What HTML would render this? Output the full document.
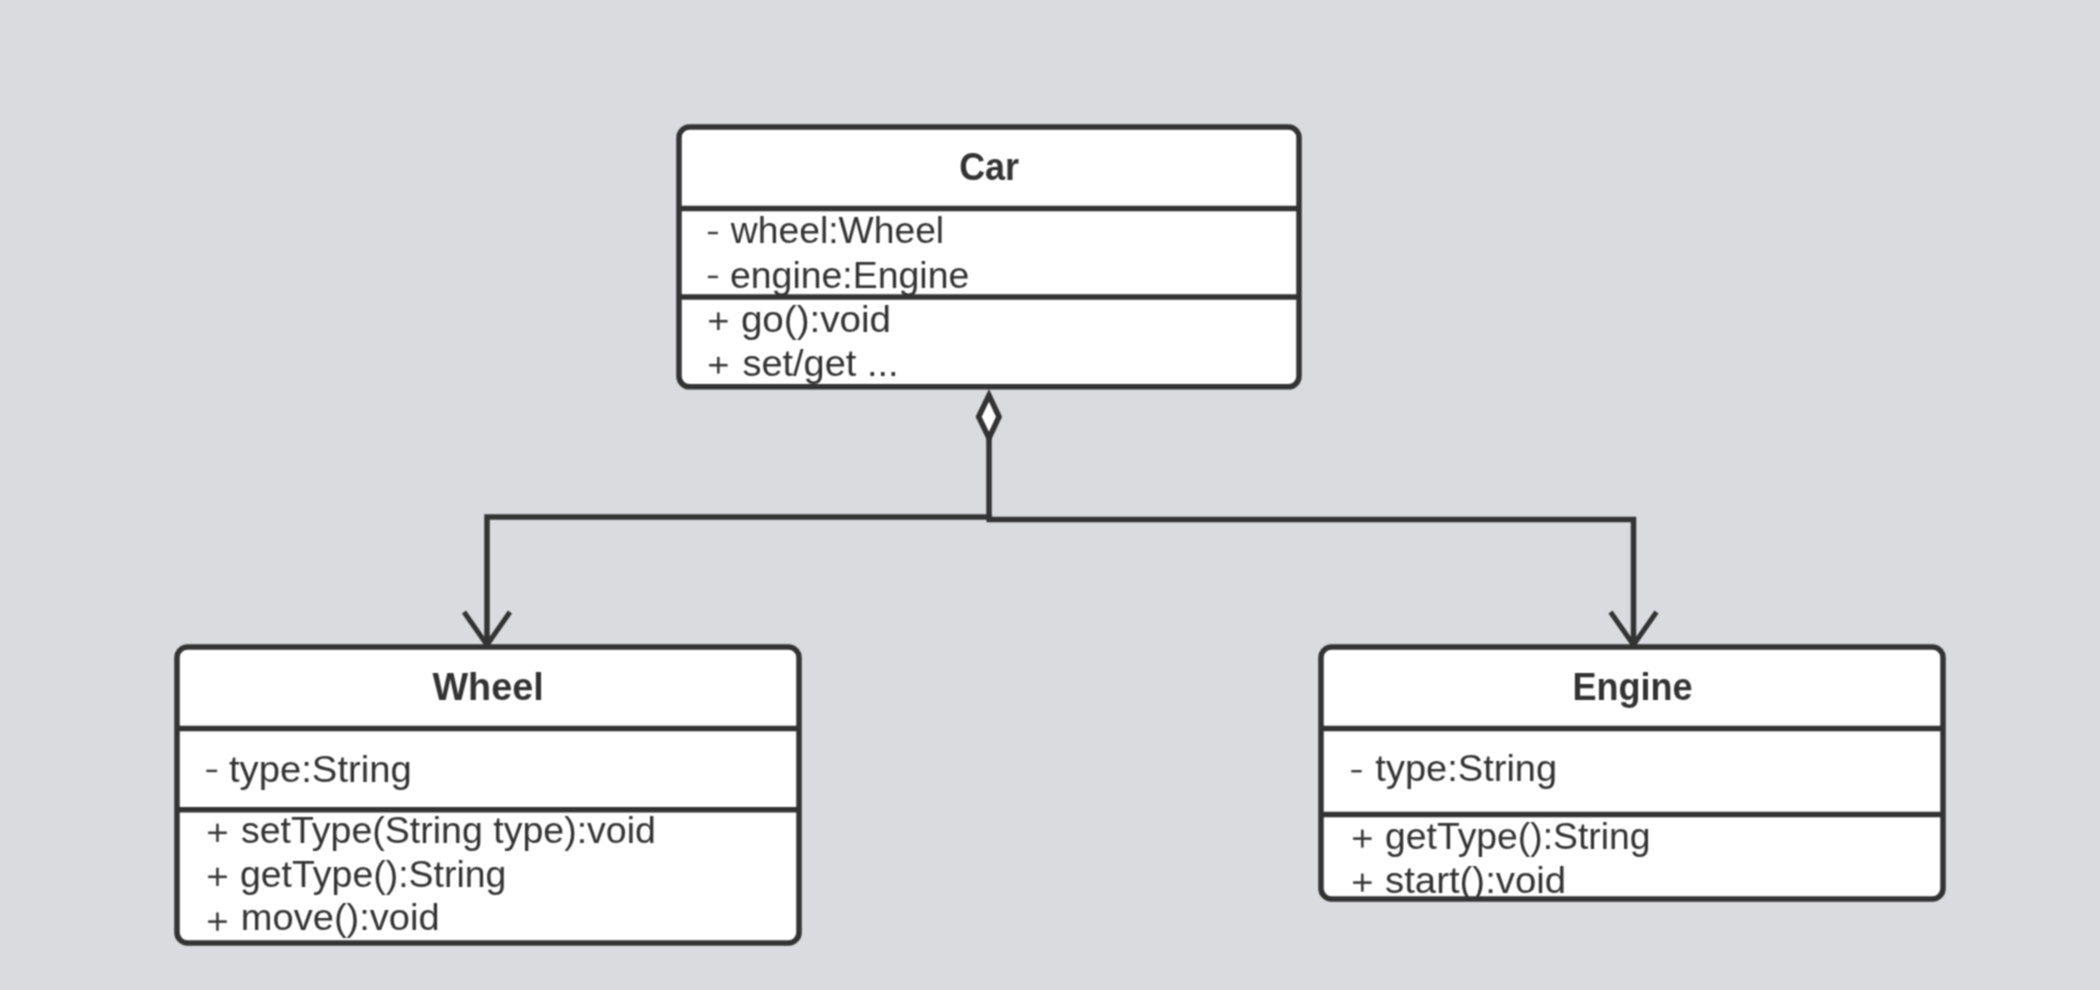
<!DOCTYPE html>
<html>
<head>
<meta charset="utf-8">
<style>
html,body{margin:0;padding:0;width:2100px;height:990px;overflow:hidden;background:#dadbdf;}
svg{display:block;position:absolute;left:0;top:0;}
text{font-family:"Liberation Sans",sans-serif;font-size:37px;fill:#333;}
.b{font-weight:bold;font-size:38.5px;fill:#333;}
</style>
</head>
<body>
<div style="position:absolute;left:0;top:0;width:2100px;height:990px;will-change:transform;"><svg width="2100" height="990" viewBox="0 0 2100 990">
<defs><filter id="soft" x="0" y="0" width="2100" height="990" filterUnits="userSpaceOnUse" color-interpolation-filters="sRGB"><feConvolveMatrix order="3" kernelMatrix="1 2 1 2 4 2 1 2 1" edgeMode="duplicate"/></filter></defs>
<g filter="url(#soft)">
<rect x="0" y="0" width="2100" height="990" fill="#dadbdf"/>
<g fill="none" stroke="#333" stroke-width="5.5">
    <polyline points="989,438 989,519.5"/>
    <polyline points="991.5,517 487,517 487,645"/>
    <polyline points="986.5,519.5 1633.5,519.5 1633.5,645"/>
    <polyline points="464,612 487,645 510,612" stroke-width="5"/>
    <polyline points="1610.5,612 1633.5,645 1656.5,612" stroke-width="5"/>
    <polygon points="989,395.3 978.65,416.75 989,438.2 999.05,416.75" fill="#fff" stroke-width="5.5"/>
  </g>
<rect x="679" y="127" width="620" height="259.8" rx="10.5" ry="10.5" fill="#fff"/><rect x="177" y="647" width="622" height="296" rx="10.5" ry="10.5" fill="#fff"/><rect x="1321" y="647" width="622" height="252" rx="10.5" ry="10.5" fill="#fff"/>
<text class="b" x="959.13" y="179.60" textLength="59.99" lengthAdjust="spacingAndGlyphs">Car</text>
<text x="730.89" y="243.30" textLength="213.29" lengthAdjust="spacingAndGlyphs">wheel:Wheel</text>
<text x="730.01" y="287.90" textLength="239.27" lengthAdjust="spacingAndGlyphs">engine:Engine</text>
<text x="740.92" y="331.70" textLength="150.13" lengthAdjust="spacingAndGlyphs">go():void</text>
<text x="742.43" y="375.70" textLength="156.17" lengthAdjust="spacingAndGlyphs">set/get ...</text>
<text class="b" x="432.49" y="699.60" textLength="111.15" lengthAdjust="spacingAndGlyphs">Wheel</text>
<text x="228.96" y="781.70" textLength="182.83" lengthAdjust="spacingAndGlyphs">type:String</text>
<text x="240.98" y="843.00" textLength="414.92" lengthAdjust="spacingAndGlyphs">setType(String type):void</text>
<text x="239.97" y="886.70" textLength="266.40" lengthAdjust="spacingAndGlyphs">getType():String</text>
<text x="240.89" y="930.30" textLength="198.73" lengthAdjust="spacingAndGlyphs">move():void</text>
<text class="b" x="1572.40" y="699.60" textLength="120.24" lengthAdjust="spacingAndGlyphs">Engine</text>
<text x="1375.38" y="781.40" textLength="181.78" lengthAdjust="spacingAndGlyphs">type:String</text>
<text x="1385.08" y="849.00" textLength="265.45" lengthAdjust="spacingAndGlyphs">getType():String</text>
<text x="1385.03" y="892.50" textLength="181.14" lengthAdjust="spacingAndGlyphs">start():void</text>
<rect x="707.90" y="231.80" width="10.00" height="2.40" fill="#3a3a3a"/>
<rect x="707.90" y="275.70" width="10.00" height="2.40" fill="#3a3a3a"/>
<rect x="206.30" y="769.70" width="10.80" height="2.40" fill="#3a3a3a"/>
<rect x="1351.30" y="770.00" width="10.40" height="2.40" fill="#3a3a3a"/>
<rect x="709.10" y="319.90" width="18.50" height="2.60" fill="#3a3a3a"/><rect x="717.05" y="312.40" width="2.60" height="17.60" fill="#3a3a3a"/>
<rect x="709.10" y="363.90" width="18.50" height="2.60" fill="#3a3a3a"/><rect x="717.05" y="356.90" width="2.60" height="16.60" fill="#3a3a3a"/>
<rect x="208.10" y="831.50" width="18.70" height="2.60" fill="#3a3a3a"/><rect x="216.15" y="823.70" width="2.60" height="18.20" fill="#3a3a3a"/>
<rect x="208.10" y="875.50" width="18.70" height="2.60" fill="#3a3a3a"/><rect x="216.15" y="867.70" width="2.60" height="18.20" fill="#3a3a3a"/>
<rect x="208.10" y="920.30" width="18.70" height="2.60" fill="#3a3a3a"/><rect x="216.15" y="912.50" width="2.60" height="18.20" fill="#3a3a3a"/>
<rect x="1353.10" y="837.30" width="18.50" height="2.60" fill="#3a3a3a"/><rect x="1361.05" y="829.60" width="2.60" height="18.00" fill="#3a3a3a"/>
<rect x="1353.10" y="881.30" width="18.50" height="2.60" fill="#3a3a3a"/><rect x="1361.05" y="873.60" width="2.60" height="18.00" fill="#3a3a3a"/>
<rect x="679" y="127" width="620" height="259.8" rx="10.5" ry="10.5" fill="none" stroke="#333" stroke-width="5.5"/><line x1="679" y1="208.5" x2="1299" y2="208.5" stroke="#333" stroke-width="5.5"/><line x1="679" y1="297" x2="1299" y2="297" stroke="#333" stroke-width="5.5"/>
<rect x="177" y="647" width="622" height="296" rx="10.5" ry="10.5" fill="none" stroke="#333" stroke-width="5.5"/><line x1="177" y1="728.5" x2="799" y2="728.5" stroke="#333" stroke-width="5.5"/><line x1="177" y1="809.7" x2="799" y2="809.7" stroke="#333" stroke-width="5.5"/>
<rect x="1321" y="647" width="622" height="252" rx="10.5" ry="10.5" fill="none" stroke="#333" stroke-width="5.5"/><line x1="1321" y1="728.5" x2="1943" y2="728.5" stroke="#333" stroke-width="5.5"/><line x1="1321" y1="814.6" x2="1943" y2="814.6" stroke="#333" stroke-width="5.5"/>
</g>
</svg></div>
</body>
</html>
